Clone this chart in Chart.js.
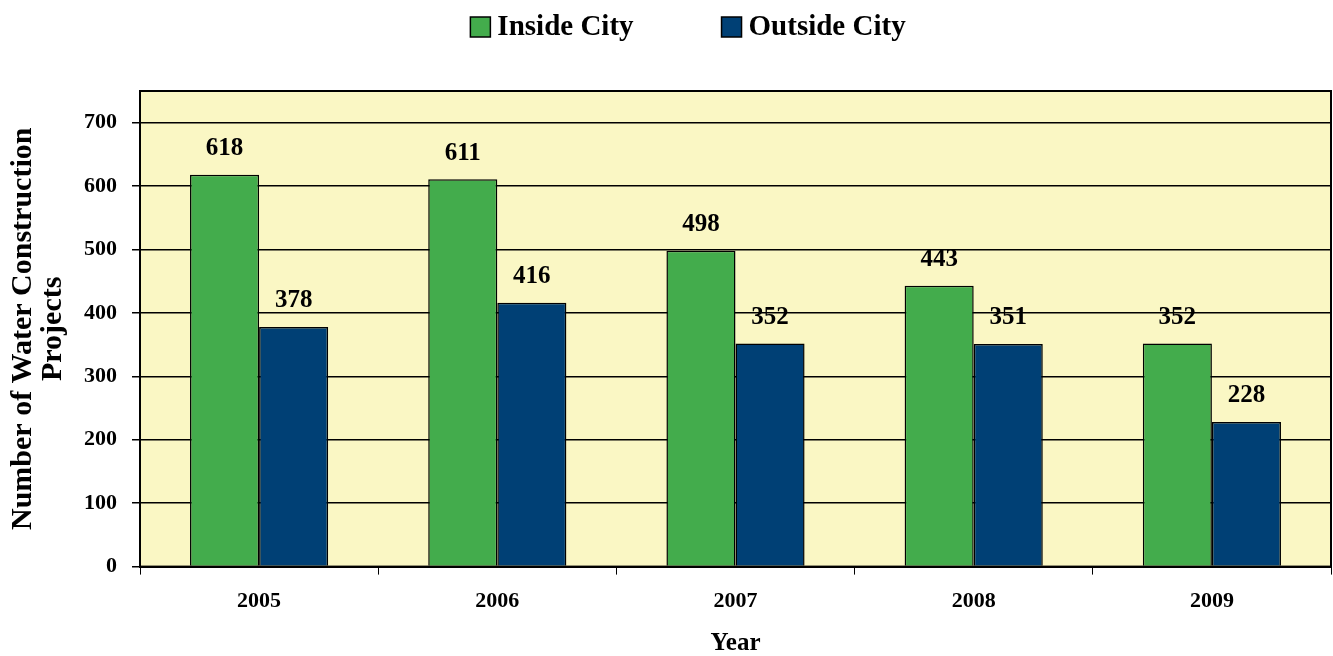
<!DOCTYPE html>
<html>
<head>
<meta charset="utf-8">
<script src="https://cdn.jsdelivr.net/npm/chart.js@4.4.1/dist/chart.umd.min.js"></script>
<style>
  html, body { margin: 0; padding: 0; background: #ffffff; }
  #wrap { width: 1333px; height: 656px; position: relative; }
</style>
</head>
<body>
<div id="wrap"><canvas id="c" width="1333" height="656"></canvas></div>
<script>
// ---- data ----
const years = ['2005', '2006', '2007', '2008', '2009'];
const insideCity = [618, 611, 498, 443, 352];
const outsideCity = [378, 416, 352, 351, 228];
const seriesNames = ['Inside City', 'Outside City'];
const yTitleLines = ['Number of Water Construction', 'Projects'];
const xTitle = 'Year';

const FONT = '"Liberation Serif", "Times New Roman", serif';
const GREEN = '#43AC4C';
const BLUE = '#004075';
const PLOT_BG = '#FAF7C4';

const plotBox = {
  id: 'plotBox',
  beforeDraw(chart) {
    const a = chart.chartArea, ctx = chart.ctx;
    ctx.save();
    ctx.fillStyle = PLOT_BG;
    ctx.fillRect(a.left, a.top, a.right - a.left, a.bottom - a.top);
    ctx.restore();
  },
  afterDatasetsDraw(chart) {
    const a = chart.chartArea, ctx = chart.ctx;
    ctx.save();
    ctx.strokeStyle = '#000';
    ctx.lineWidth = 2;
    ctx.strokeRect(a.left, a.top, a.right - a.left, a.bottom - a.top);
    // value labels
    ctx.fillStyle = '#000';
    ctx.font = 'bold 25px ' + FONT;
    ctx.textAlign = 'center';
    ctx.textBaseline = 'middle';
    chart.data.datasets.forEach((ds, i) => {
      chart.getDatasetMeta(i).data.forEach((bar, j) => {
        ctx.fillText(String(ds.data[j]), bar.x, bar.y - 26);
      });
    });
    ctx.restore();
  }
};

const topLegend = {
  id: 'topLegend',
  afterDraw(chart) {
    const ctx = chart.ctx;
    const o = chart.options.plugins.topLegend;
    ctx.save();
    ctx.font = 'bold 29px ' + FONT;
    ctx.textBaseline = 'middle';
    ctx.textAlign = 'left';
    const items = chart.data.datasets.map(d => ({ text: d.label, color: d.backgroundColor }));
    const widths = items.map(it => o.box + o.gap + ctx.measureText(it.text).width);
    const total = widths.reduce((s, w) => s + w, 0) + o.spacing * (items.length - 1);
    let x = o.centerX - total / 2;
    items.forEach((it, i) => {
      ctx.fillStyle = it.color;
      ctx.fillRect(x, o.y - o.box / 2, o.box, o.box);
      ctx.strokeStyle = '#000';
      ctx.lineWidth = 1.5;
      ctx.strokeRect(x, o.y - o.box / 2, o.box, o.box);
      ctx.fillStyle = '#000';
      ctx.fillText(it.text, x + o.box + o.gap, o.y + 1);
      x += widths[i] + o.spacing;
    });
    ctx.restore();
  }
};

new Chart(document.getElementById('c'), {
  type: 'bar',
  data: {
    labels: years,
    datasets: [
      { label: seriesNames[0], data: insideCity, backgroundColor: GREEN, borderColor: '#000', borderWidth: 1.5 },
      { label: seriesNames[1], data: outsideCity, backgroundColor: BLUE, borderColor: '#000', borderWidth: 1.5 }
    ]
  },
  options: {
    responsive: false,
    animation: false,
    layout: { padding: { top: 91, right: 2, left: 8, bottom: 0 } },
    datasets: { bar: { categoryPercentage: 0.58, barPercentage: 1.0 } },
    plugins: {
      legend: { display: false },
      tooltip: { enabled: false },
      topLegend: { centerX: 688, y: 27, box: 20, gap: 7, spacing: 88 }
    },
    scales: {
      x: {
        offset: true,
        grid: { offset: true, drawOnChartArea: false, drawTicks: true, tickLength: 8, color: '#000', lineWidth: 1 },
        border: { display: true, color: '#000', width: 2 },
        ticks: { color: '#000', font: { family: FONT, size: 22, weight: 'bold' }, padding: 14 },
        title: { display: true, text: xTitle, color: '#000', font: { family: FONT, size: 25, weight: 'bold', lineHeight: 1.0 }, padding: { top: 2, bottom: 0 } }
      },
      y: {
        min: 0, max: 750,
        grid: { color: '#000', lineWidth: 1.5, drawTicks: true, tickLength: 8 },
        border: { display: true, color: '#000', width: 2 },
        ticks: { stepSize: 100, includeBounds: false, color: '#000', font: { family: FONT, size: 22, weight: 'bold' }, padding: 15 },
        title: { display: true, text: yTitleLines, color: '#000', font: { family: FONT, size: 30, weight: 'bold', lineHeight: 1.0 }, padding: { top: 0, bottom: 1 } }
      }
    }
  },
  plugins: [plotBox, topLegend]
});
</script>
</body>
</html>
